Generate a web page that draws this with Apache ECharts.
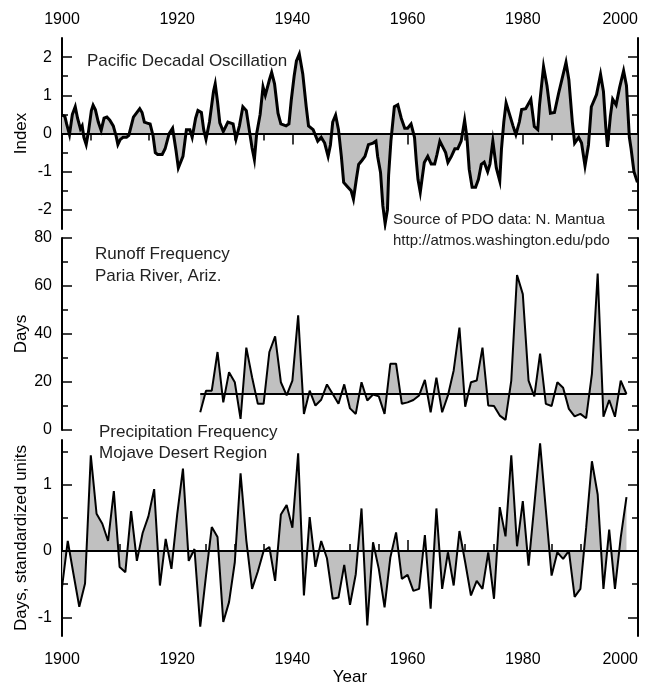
<!DOCTYPE html>
<html><head><meta charset="utf-8">
<script src="https://cdn.jsdelivr.net/npm/echarts@6/dist/echarts.min.js"></script>
<style>html,body{margin:0;padding:0;background:#fff}#c{width:658px;height:687px}</style>
</head><body><div id="c"></div>
<script>
// ---------- DATA ----------
const pdoIndex = [
[1900.0,0.48],[1900.5,0.45],[1900.8,0.25],[1901.3,-0.03],[1901.8,0.5],[1902.3,0.7],[1902.7,0.4],[1903.2,0.12],[1903.5,0.2],[1903.8,-0.1],
[1904.2,-0.29],[1904.6,0.05],[1905.1,0.6],[1905.4,0.74],[1905.8,0.62],[1906.3,0.3],[1906.8,0.08],[1907.3,0.4],[1907.8,0.43],[1908.3,0.35],
[1908.9,0.2],[1909.4,-0.07],[1909.7,-0.29],[1910.1,-0.16],[1910.6,-0.1],[1911.2,-0.1],[1911.6,-0.05],[1912.4,0.43],[1913.5,0.65],[1913.9,0.55],
[1914.3,0.3],[1914.8,0.27],[1915.3,0.25],[1915.8,-0.05],[1916.2,-0.5],[1916.6,-0.55],[1917.4,-0.55],[1917.9,-0.4],[1918.6,0.0],[1919.2,0.14],
[1919.8,-0.45],[1920.2,-0.9],[1920.5,-0.95],[1921.0,-0.6],[1921.6,0.1],[1922.2,0.1],[1922.6,-0.1],[1923.2,0.4],[1923.6,0.6],[1924.2,0.55],
[1924.6,0.1],[1925.0,-0.15],[1925.6,0.3],[1926.3,1.1],[1926.6,1.3],[1927.0,0.83],[1927.4,0.28],[1928.0,0.05],[1928.8,0.3],[1929.7,0.25],
[1930.2,-0.15],[1930.8,0.2],[1931.4,0.7],[1932.0,0.6],[1932.4,0.2],[1933.0,-0.38],[1933.4,-0.68],[1933.8,0.0],[1934.4,0.5],[1934.9,1.22],
[1935.3,1.0],[1936.0,1.4],[1936.4,1.6],[1936.9,1.3],[1937.5,0.53],[1938.0,0.25],[1938.9,0.2],[1939.4,0.25],[1939.8,0.87],[1940.3,1.5],
[1940.7,1.9],[1941.2,2.08],[1941.8,1.56],[1942.4,0.7],[1942.8,0.2],[1943.6,0.1],[1944.4,-0.2],[1945.0,-0.1],[1945.6,-0.25],[1946.2,-0.6],
[1946.6,-0.3],[1947.0,0.3],[1947.5,0.48],[1948.0,0.1],[1948.5,-0.6],[1948.9,-1.28],[1949.6,-1.4],[1950.2,-1.5],[1950.6,-1.72],[1951.1,-1.2],
[1951.5,-0.81],[1952.1,-0.7],[1952.6,-0.6],[1953.2,-0.29],[1954.0,-0.25],[1954.5,-0.2],[1954.8,-0.6],[1955.3,-1.02],[1955.7,-1.89],[1956.1,-2.36],
[1956.5,-2.0],[1956.7,-1.1],[1957.1,-0.2],[1957.7,0.7],[1958.3,0.75],[1958.9,0.4],[1959.5,0.14],[1960.0,0.14],[1960.6,0.25],[1961.2,-0.1],
[1961.5,-0.7],[1961.8,-1.2],[1962.2,-1.54],[1962.5,-1.2],[1962.9,-0.76],[1963.5,-0.6],[1964.1,-0.8],[1964.7,-0.8],[1965.1,-0.55],[1965.6,-0.2],
[1966.1,-0.35],[1966.6,-0.5],[1967.0,-0.76],[1967.6,-0.6],[1968.2,-0.4],[1968.7,-0.4],[1969.3,-0.2],[1969.9,0.35],[1970.3,-0.1],[1970.7,-0.94],
[1971.2,-1.41],[1971.8,-1.41],[1972.3,-1.2],[1972.8,-0.81],[1973.3,-0.75],[1973.9,-1.0],[1974.3,-0.8],[1974.8,-0.2],[1975.4,-0.9],[1976.0,-1.24],
[1976.3,-0.4],[1976.7,0.3],[1977.1,0.8],[1977.7,0.5],[1978.3,0.2],[1978.8,-0.03],[1979.4,0.3],[1979.8,0.63],[1980.5,0.65],[1981.4,0.89],
[1982.0,0.18],[1982.6,0.1],[1982.9,0.74],[1983.6,1.75],[1984.2,1.25],[1984.8,0.53],[1985.5,0.55],[1986.2,1.04],[1987.5,1.86],[1988.0,1.4],
[1988.6,0.3],[1989.0,-0.25],[1989.7,-0.1],[1990.2,-0.25],[1990.8,-0.85],[1991.4,-0.3],[1991.9,0.7],[1992.8,1.02],[1993.5,1.55],[1994.0,1.1],
[1994.4,0.18],[1994.7,-0.35],[1995.2,0.45],[1995.6,0.9],[1996.2,0.75],[1996.8,1.2],[1997.5,1.64],[1998.0,1.25],[1998.5,-0.1],[1998.8,-0.4],
[1999.3,-1.0],[1999.9,-1.28]
];

const runoffYears = [1924,1925,1926,1927,1928,1929,1930,1931,1932,1933,1934,1935,1936,1937,1938,1939,1940,1941,1942,1943,1944,1945,1946,1947,1948,1949,
1950,1951,1952,1953,1954,1955,1956,1957,1958,1959,1960,1961,1962,1963,1964,1965,1966,1967,1968,1969,1970,1971,1972,1973,1974,1975,1976,1977,1978,1979,
1980,1981,1982,1983,1984,1985,1986,1987,1988,1989,1990,1991,1992,1993,1994,1995,1996,1997,1998];
const runoffDays = [7.4,16.4,16.4,32.5,11.5,24.1,19.9,4.6,34.3,22,10.9,10.9,32.5,39,19.9,14.4,20.6,47.8,6.7,16.4,10.2,12.6,19,15,10.9,19,
9,6.7,19.9,12.3,14.8,14,6.7,27.6,27.6,10.9,11.5,12.5,14.4,20.9,7.4,21.8,7.4,14.4,24.8,42.7,9.7,19.9,20.6,34.3,10.2,10,6,4.2,20.6,64.6,
56.6,20.6,14,31.8,10.9,10,19.9,17.6,8.8,5.7,6.7,4.9,23.4,65.2,5.5,12.5,5.5,20.6,15];
const runoffBaseline = 15;

const precipYears = [1900,1901,1902,1903,1904,1905,1906,1907,1908,1909,1910,1911,1912,1913,1914,1915,1916,1917,1918,1919,1920,1921,1922,1923,
1924,1925,1926,1927,1928,1929,1930,1931,1932,1933,1934,1935,1936,1937,1938,1939,1940,1941,1942,1943,1944,1945,1946,1947,1948,1949,
1950,1951,1952,1953,1954,1955,1956,1957,1958,1959,1960,1961,1962,1963,1964,1965,1966,1967,1968,1969,1970,1971,1972,1973,1974,
1975,1976,1977,1978,1979,1980,1981,1982,1983,1984,1985,1986,1987,1988,1989,1990,1991,1992,1993,1994,1995,1996,1997,1998];
const precipDays = [-0.55,0.15,-0.35,-0.84,-0.49,1.44,0.56,0.41,0.15,0.9,-0.24,-0.32,0.6,-0.15,0.27,0.52,0.93,-0.52,0.18,-0.27,0.55,1.24,-0.15,0.03,
-1.14,-0.37,0.36,0.21,-1.07,-0.77,-0.17,1.17,0.16,-0.57,-0.31,0.0,0.06,-0.45,0.55,0.69,0.35,1.47,-0.67,0.51,-0.24,0.15,-0.11,-0.72,-0.7,-0.21,
-0.81,-0.35,0.64,-1.12,0.13,-0.27,-0.85,-0.1,0.28,-0.42,-0.36,-0.6,-0.57,0.24,-0.87,0.64,-0.57,-0.02,-0.52,0.3,-0.17,-0.67,-0.45,-0.57,-0.02,
-0.72,0.66,0.22,1.44,0.07,0.75,-0.22,0.69,1.62,0.62,-0.37,-0.02,-0.12,0,-0.69,-0.57,0.35,1.35,0.85,-0.57,0.32,-0.57,0.2,0.81];

const yearTicksMajor = [1900,1920,1940,1960,1980,2000];
const pdoTicksMajor = [-2,-1,0,1,2];
const pdoTicksMinor = [-1.5,-0.5,0.5,1.5];
const runoffTicksMajor = [0,20,40,60,80];
const runoffTicksMinor = [10,30,50,70];
const precipTicksMajor = [-1,0,1];
const precipTicksMinor = [-0.5,0.5,1.5];

// ---------- CHART ----------
const F = "'Liberation Sans', Arial, Helvetica, sans-serif";
const INK = '#000';
const FILL = '#c0c0c0';
const chart = echarts.init(document.getElementById('c'), null, {renderer:'canvas'});

function yAxes(g, min, max, major, minor, name, nameGap) {
  const base = {type:'value', gridIndex:g, min:min, max:max, splitLine:{show:false}, scale:true};
  const line = {show:true, lineStyle:{color:INK, width:2}};
  const tk = (vals, len) => ({show:true, inside:true, length:len, customValues:vals, lineStyle:{color:INK, width:1.5}});
  return [
    Object.assign({}, base, {position:'left', axisLine:line, axisTick:tk(major, 10),
      axisLabel:{show:true, customValues:major, fontSize:16, fontFamily:F, color:INK, margin:10, formatter:(v)=>String(v)},
      name:name, nameLocation:'middle', nameGap:nameGap, nameRotate:90, nameMoveOverlap:false,
      nameTextStyle:{fontSize:17, fontFamily:F, color:INK}}),
    Object.assign({}, base, {position:'left', axisLine:{show:false}, axisTick:tk(minor, 6), axisLabel:{show:false}}),
    Object.assign({}, base, {position:'right', axisLine:line, axisTick:tk(major, 10), axisLabel:{show:false}}),
    Object.assign({}, base, {position:'right', axisLine:{show:false}, axisTick:tk(minor, 6), axisLabel:{show:false}})
  ];
}
function xAxis(g, pos, show, name) {
  return {type:'value', gridIndex:g, position:pos, min:1900, max:2000, interval:20, show:show,
    splitLine:{show:false},
    axisLine:{show:true, lineStyle:{color:INK, width:2}},
    axisTick:{show:true, inside:true, length:11, lineStyle:{color:INK, width:1.5}},
    minorTick:{show:true, splitNumber:4, length:7, lineStyle:{color:INK, width:1.5}},
    axisLabel:{show:true, customValues:yearTicksMajor, fontSize:16, fontFamily:F, color:INK,
      margin:(pos==='top'?10:16), alignMaxLabel:'right', formatter:(v)=>String(v)},
    name:name || '', nameLocation:'middle', nameGap:33, nameMoveOverlap:false,
    nameTextStyle:{fontSize:17, fontFamily:F, color:INK}};
}

const lineBase = {type:'line', symbol:'none', showSymbol:false, silent:true, animation:false, z:3};

const option = {
  animation:false,
  backgroundColor:'#fff',
  grid:[
    {left:62, right:20, top:38, height:191},
    {left:62, right:20, top:238, height:192},
    {left:62, right:20, top:440, height:197}
  ],
  xAxis:[ xAxis(0,'top',true), xAxis(1,'bottom',false), xAxis(2,'bottom',true,'Year') ],
  yAxis:[].concat(
    yAxes(0,-2.5,2.5,pdoTicksMajor,pdoTicksMinor,'Index',32),
    yAxes(1,0,80,runoffTicksMajor,runoffTicksMinor,'Days',32),
    yAxes(2,-1.28,1.67,precipTicksMajor,precipTicksMinor,'Days, standardized units',32)
  ),
  series:[
    Object.assign({}, lineBase, {name:'PDO', xAxisIndex:0, yAxisIndex:0, data:pdoIndex,
      lineStyle:{color:INK, width:3, join:'miter'}, areaStyle:{color:FILL, opacity:1, origin:0},
      markLine:{silent:true, symbol:'none', label:{show:false}, animation:false,
        lineStyle:{color:INK, width:2, type:'solid'}, data:[{yAxis:0}]}}),
    Object.assign({}, lineBase, {name:'Runoff', xAxisIndex:1, yAxisIndex:4,
      data:runoffYears.map((y,i)=>[y, runoffDays[i]]),
      lineStyle:{color:INK, width:2}, areaStyle:{color:FILL, opacity:1, origin:runoffBaseline},
      markLine:{silent:true, symbol:'none', label:{show:false}, animation:false,
        lineStyle:{color:INK, width:2, type:'solid'},
        data:[[{coord:[runoffYears[0], runoffBaseline]},{coord:[runoffYears[runoffYears.length-1], runoffBaseline]}]]}}),
    Object.assign({}, lineBase, {name:'Precip', xAxisIndex:2, yAxisIndex:8,
      data:precipYears.map((y,i)=>[y, precipDays[i]]),
      lineStyle:{color:INK, width:2}, areaStyle:{color:FILL, opacity:1, origin:0},
      markLine:{silent:true, symbol:'none', label:{show:false}, animation:false,
        lineStyle:{color:INK, width:2, type:'solid'}, data:[{yAxis:0}]}})
  ],
  graphic:[
    {type:'text', left:87, top:53, style:{text:'Pacific Decadal Oscillation', font:'17px '+F, fill:'#222'}},
    {type:'text', left:393, top:212, style:{text:'Source of PDO data: N. Mantua', font:'15px '+F, fill:'#222'}},
    {type:'text', left:393, top:233, style:{text:'http://atmos.washington.edu/pdo', font:'15px '+F, fill:'#222'}},
    {type:'text', left:95, top:246, style:{text:'Runoff Frequency', font:'17px '+F, fill:'#222'}},
    {type:'text', left:95, top:268, style:{text:'Paria River, Ariz.', font:'17px '+F, fill:'#222'}},
    {type:'text', left:99, top:424, style:{text:'Precipitation Frequency', font:'17px '+F, fill:'#222'}},
    {type:'text', left:99, top:445, style:{text:'Mojave Desert Region', font:'17px '+F, fill:'#222'}}
  ]
};
chart.setOption(option);
</script>
</body></html>
